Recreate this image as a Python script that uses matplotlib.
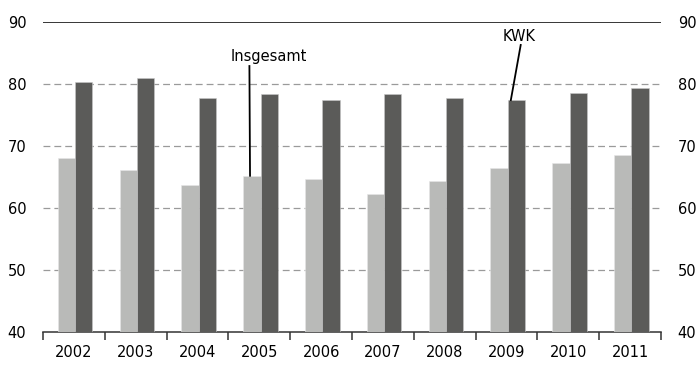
import numpy as np
import matplotlib
matplotlib.use("Agg")
import matplotlib.pyplot as plt

# ========= 数据 =========
years = ["2002", "2003", "2004", "2005", "2006", "2007", "2008", "2009", "2010", "2011"]
insgesamt = [68.0, 66.2, 63.7, 65.2, 64.7, 62.3, 64.3, 66.4, 67.2, 68.5]
kwk = [80.3, 80.9, 77.8, 78.4, 77.4, 78.4, 77.7, 77.4, 78.6, 79.3]
y_ticks = [40, 50, 60, 70, 80, 90]

LIGHT = "#b9bab8"
DARK = "#5b5b59"

plt.rcParams["font.family"] = ["DejaVu Sans"]

fig = plt.figure(figsize=(6.98, 3.65), dpi=100)
ax = fig.add_axes([0.0616, 0.0904, 0.8854, 0.8493])

x = np.arange(len(years))
w = 0.28
ax.bar(x - 0.12, insgesamt, width=w, color=LIGHT, edgecolor="#e6e6e6", linewidth=0.4, zorder=3)
ax.bar(x + 0.16, kwk, width=w, color=DARK, edgecolor="#c8c8c8", linewidth=0.4, zorder=3)

ax.set_xlim(-0.5, len(years) - 0.5)
ax.set_ylim(40, 90)

# gitterlinien
for v in y_ticks[1:-1]:
    ax.axhline(v, color="#9a9a9a", lw=0.9, ls=(0, (5.5, 3.2)), zorder=1)
ax.axhline(90, color="black", lw=1.1, zorder=4)

for s in ["top", "left", "right"]:
    ax.spines[s].set_visible(False)
ax.spines["bottom"].set_color("#333333")
ax.spines["bottom"].set_linewidth(1.1)

# x-achse: striche an den grenzen, labels in der mitte
ax.set_xticks(np.arange(-0.5, len(years), 1.0))
ax.set_xticklabels([])
ax.tick_params(axis="x", which="major", length=6, width=1.1, color="#333333", direction="out")
ax.set_xticks(x, minor=True)
ax.set_xticklabels(years, minor=True, fontsize=10.5)
ax.tick_params(axis="x", which="minor", length=0, pad=9)

# y-achse links und rechts
ax.set_yticks(y_ticks)
ax.set_yticklabels([str(v) for v in y_ticks], fontsize=10.5)
ax.tick_params(axis="y", length=0, pad=12, labelleft=True, labelright=True)

# annotationen
ax.plot([3 - 0.16, 3 - 0.15], [82.9, 65.2], color="black", lw=1.3, zorder=5)
ax.text(3.15, 83.3, "Insgesamt", ha="center", va="bottom", fontsize=10.5, zorder=5)

ax.plot([7.23, 7.07], [86.3, 77.4], color="black", lw=1.3, zorder=5)
ax.text(7.2, 86.5, "KWK", ha="center", va="bottom", fontsize=10.5, zorder=5)

fig.savefig("out.png", dpi=100)
